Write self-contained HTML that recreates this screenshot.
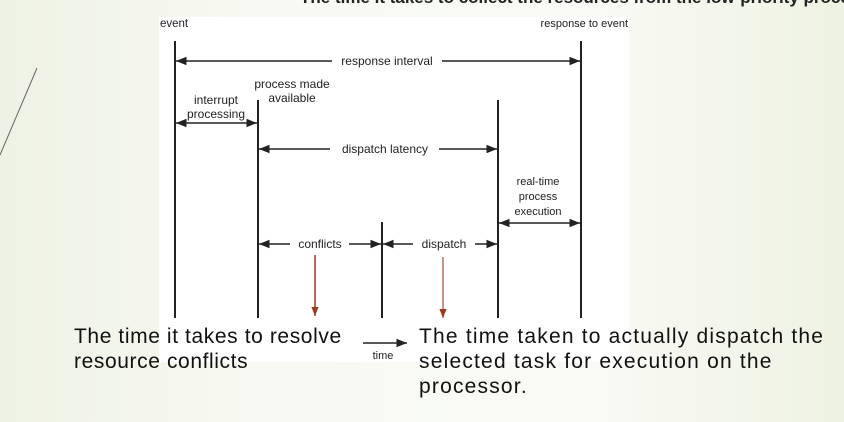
<!DOCTYPE html>
<html><head><meta charset="utf-8"><style>
html,body{margin:0;padding:0}
body{width:844px;height:422px;overflow:hidden;position:relative;background:linear-gradient(90deg,#eef2e4 0%,#f8f9f2 30%,#f9faf5 70%,#eef2e2 100%);font-family:"Liberation Sans",sans-serif}
.t{position:absolute;font-size:21px;color:#111;line-height:25px;letter-spacing:1.2px;white-space:nowrap}
</style></head><body>
<div style="position:absolute;left:300px;top:-12px;font-size:17px;font-weight:bold;color:#222;white-space:nowrap">The time it takes to collect the resources from the low-priority process</div>
<svg width="844" height="422" style="position:absolute;left:0;top:0">
<line x1="0" y1="155" x2="37" y2="68" stroke="#666" stroke-width="1"/>
<rect x="159" y="17" width="470" height="345" fill="#fff"/>
<defs>
<marker id="a" viewBox="0 0 10 10" refX="10" refY="5" markerWidth="7" markerHeight="7" orient="auto-start-reverse"><path d="M0,1 L10,5 L0,9z" fill="#222"/></marker>
<marker id="r" viewBox="0 0 10 10" refX="10" refY="5" markerWidth="6" markerHeight="6" orient="auto"><path d="M0,1 L10,5 L0,9z" fill="#9b3a22"/></marker>
</defs>
<g stroke="#222" stroke-width="2">
<line x1="175" y1="41" x2="175" y2="318"/>
<line x1="258" y1="100" x2="258" y2="318"/>
<line x1="382" y1="222" x2="382" y2="318"/>
<line x1="498" y1="100" x2="498" y2="318"/>
<line x1="581" y1="41" x2="581" y2="318"/>
</g>
<g stroke="#222" stroke-width="1.5" fill="none">
<line x1="176" y1="61" x2="332" y2="61" marker-start="url(#a)"/>
<line x1="442" y1="61" x2="580" y2="61" marker-end="url(#a)"/>
<line x1="176" y1="123" x2="257" y2="123" marker-start="url(#a)" marker-end="url(#a)"/>
<line x1="259" y1="149" x2="330" y2="149" marker-start="url(#a)"/>
<line x1="439" y1="149" x2="497" y2="149" marker-end="url(#a)"/>
<line x1="499" y1="223" x2="580" y2="223" marker-start="url(#a)" marker-end="url(#a)"/>
<line x1="259" y1="244" x2="290" y2="244" marker-start="url(#a)"/>
<line x1="349" y1="244" x2="381" y2="244" marker-end="url(#a)"/>
<line x1="383" y1="244" x2="413" y2="244" marker-start="url(#a)"/>
<line x1="475" y1="244" x2="497" y2="244" marker-end="url(#a)"/>
<line x1="363" y1="343" x2="407" y2="343" marker-end="url(#a)"/>
</g>
<line x1="315" y1="255" x2="315" y2="316" stroke="#9b3a22" stroke-width="1.5" marker-end="url(#r)"/>
<line x1="443" y1="257" x2="443" y2="318" stroke="#b07060" stroke-width="1.5" marker-end="url(#r)"/>
<g font-family="Liberation Sans, sans-serif" font-size="12" fill="#222">
<text x="160" y="27" font-size="11.5">event</text>
<text x="628" y="27" font-size="11" text-anchor="end">response to event</text>
<text x="387" y="65" text-anchor="middle">response interval</text>
<text x="292" y="88" text-anchor="middle">process made</text>
<text x="292" y="102" text-anchor="middle">available</text>
<text x="216" y="104" text-anchor="middle">interrupt</text>
<text x="216" y="118" text-anchor="middle">processing</text>
<text x="385" y="153" text-anchor="middle">dispatch latency</text>
<text x="538" y="185" text-anchor="middle" font-size="11">real-time</text>
<text x="538" y="200" text-anchor="middle" font-size="11">process</text>
<text x="538" y="215" text-anchor="middle" font-size="11">execution</text>
<text x="320" y="248" text-anchor="middle">conflicts</text>
<text x="444" y="248" text-anchor="middle">dispatch</text>
<text x="383" y="359" text-anchor="middle" font-size="11">time</text>
</g>
</svg>
<div class="t" style="left:74px;top:324px;letter-spacing:0.6px">The time it takes to resolve<br>resource conflicts</div>
<div class="t" style="left:419px;top:324px">The time taken to actually dispatch the<br>selected task for execution on the<br>processor.</div>
</body></html>
